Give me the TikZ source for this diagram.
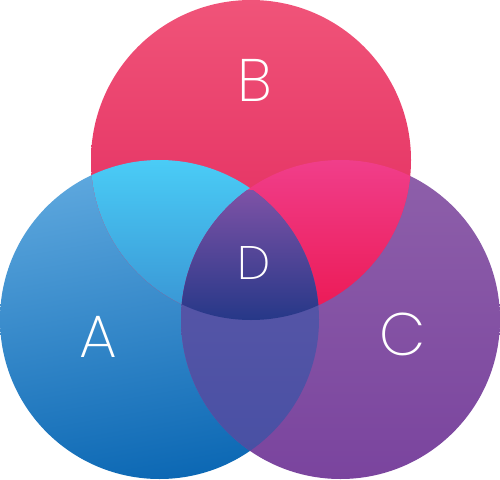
\documentclass[tikz,border=0pt]{standalone}
\usepackage{fontspec}
\newfontfamily\lblfont{Poppins}[UprightFont=* ExtraLight]
\definecolor{Btop}{HTML}{F05479}
\definecolor{Bbot}{HTML}{E0245A}
\definecolor{Atop}{HTML}{5EA8DE}
\definecolor{Abot}{HTML}{0C68B4}
\definecolor{Ctop}{HTML}{8E60AA}
\definecolor{Cbot}{HTML}{7A449E}
\definecolor{ABtop}{HTML}{4ACCF6}
\definecolor{ABbot}{HTML}{3A98D6}
\definecolor{BCtop}{HTML}{F03E8A}
\definecolor{BCbot}{HTML}{EC1A56}
\definecolor{ACtop}{HTML}{5E58A8}
\definecolor{ACbot}{HTML}{4850A4}
\definecolor{Dtop}{HTML}{7E52A6}
\definecolor{Dbot}{HTML}{263888}
\tikzset{
  setlabel/.style={text=white, font=\lblfont\fontsize{60}{60}\selectfont, inner sep=0pt},
  smalllabel/.style={text=white, font=\lblfont\fontsize{47}{47}\selectfont, inner sep=0pt}
}
\begin{document}
\begin{tikzpicture}[x=1pt,y=-1pt]
\useasboundingbox (0,0) rectangle (500,479);
\def\circA{(159.5,319.5) circle[radius=159.5pt]}
\def\circB{(251,160) circle[radius=160pt]}
\def\circC{(340.5,319.5) circle[radius=159.5pt]}
% single circles
\shade[top color=Atop, bottom color=Abot, shading angle=10] \circA;
\shade[top color=Ctop, bottom color=Cbot] \circC;
\shade[top color=Btop, bottom color=Bbot] \circB;
% A and B
\begin{scope}
  \clip \circA;
  \clip \circB;
  \shade[top color=ABtop, bottom color=ABbot] (0,160) rectangle (330,305);
\end{scope}
% B and C
\begin{scope}
  \clip \circB;
  \clip \circC;
  \shade[top color=BCtop, bottom color=BCbot] (170,160) rectangle (420,310);
\end{scope}
% A and C
\begin{scope}
  \clip \circA;
  \clip \circC;
  \shade[top color=ACtop, bottom color=ACbot] (170,190) rectangle (330,460);
\end{scope}
% D
\begin{scope}
  \clip \circA;
  \clip \circB;
  \clip \circC;
  \shade[top color=Dtop, bottom color=Dbot] (170,190) rectangle (330,320);
\end{scope}
\node[setlabel] (lblB) at (255,80) {B};
\node[setlabel] (lblA) at (98,337) {A};
\node[setlabel] (lblC) at (403,334) {C};
\node[smalllabel] (lblD) at (254.5,263) {D};
\end{tikzpicture}
\end{document}
